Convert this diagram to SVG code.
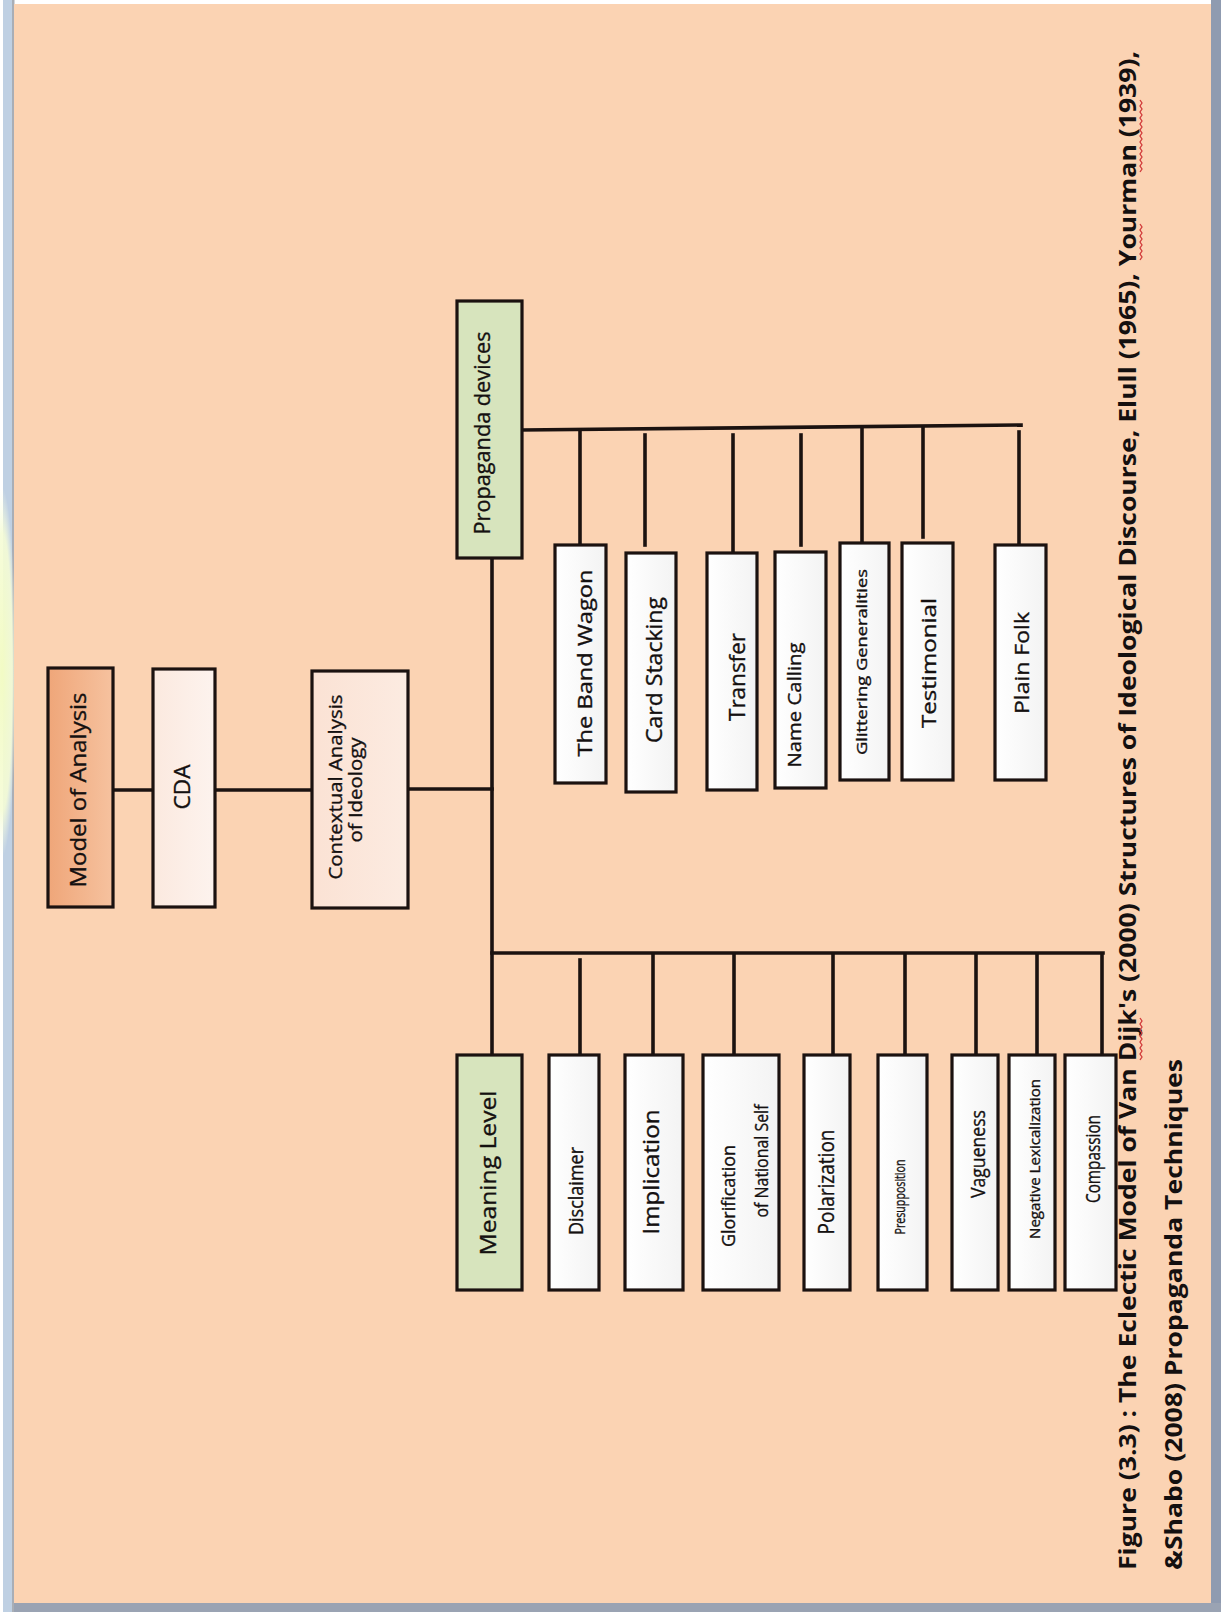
<svg xmlns="http://www.w3.org/2000/svg" width="1221" height="1612" viewBox="0 0 1221 1612">
<style>
.box{stroke:#1b1210;stroke-width:3.2}
.w{fill:url(#gw)}
.g{fill:#d7e4bd}
.lab{font-family:"Open Sans","Liberation Sans",sans-serif;fill:#141010;stroke:#141010;stroke-width:0.35;text-anchor:middle}
.cap{font-family:"Open Sans","Liberation Sans",sans-serif;fill:#141010;font-weight:bold}
#connectors line{stroke:#1b1210;stroke-width:3.6;stroke-linecap:square}
.sq{fill:none;stroke:#d23a3a;stroke-width:1.3}
</style>
<defs>
<linearGradient id="gw" x1="0" y1="0" x2="1" y2="0"><stop offset="0" stop-color="#ffffff"/><stop offset="1" stop-color="#f3f3f3"/></linearGradient>
<linearGradient id="go" x1="0" y1="0" x2="1" y2="0"><stop offset="0" stop-color="#efa679"/><stop offset="1" stop-color="#f6c29f"/></linearGradient>
<linearGradient id="gc" x1="0" y1="0" x2="1" y2="0"><stop offset="0" stop-color="#fbe9df"/><stop offset="1" stop-color="#fdf3ee"/></linearGradient>
<linearGradient id="gx" x1="0" y1="0" x2="1" y2="0"><stop offset="0" stop-color="#fbe2d4"/><stop offset="1" stop-color="#fcebe1"/></linearGradient>
<radialGradient id="gy" cx="0.5" cy="0.5" r="0.5"><stop offset="0" stop-color="#f2fbc4" stop-opacity="1"/><stop offset="0.75" stop-color="#f5fcd6" stop-opacity="0.9"/><stop offset="1" stop-color="#f8fde6" stop-opacity="0"/></radialGradient>
</defs>
<!-- page -->
<rect x="0" y="0" width="1221" height="1612" fill="#ffffff"/>
<rect x="3" y="0" width="9" height="1612" fill="#bfd0e3"/>
<rect x="12" y="0" width="2.5" height="1612" fill="#a9aeb6"/>
<ellipse cx="2" cy="672" rx="14" ry="185" fill="url(#gy)"/>
<rect x="14" y="4" width="1197" height="1600" fill="#fbd3b3"/>
<rect x="1211" y="0" width="10" height="1612" fill="#8f9bb0"/>
<rect x="14" y="1603" width="1207" height="9" fill="#9aa3b3"/>

<g id="connectors">
<line x1="113" y1="790" x2="153" y2="790"/>
<line x1="215" y1="790" x2="323" y2="790"/>
<line x1="408" y1="789" x2="492" y2="789"/>
<line x1="492" y1="558" x2="492" y2="1055"/>
<line x1="522" y1="430" x2="1021" y2="425"/>
<line x1="580" y1="430" x2="580" y2="545"/>
<line x1="645" y1="435" x2="645" y2="545"/>
<line x1="733" y1="435" x2="733" y2="553"/>
<line x1="801" y1="435" x2="801" y2="545"/>
<line x1="862" y1="428" x2="862" y2="543"/>
<line x1="923" y1="428" x2="923" y2="537"/>
<line x1="1019" y1="432" x2="1019" y2="545"/>
<line x1="492" y1="953" x2="1103" y2="953"/>
<line x1="580" y1="960" x2="580" y2="1055"/>
<line x1="653" y1="955" x2="653" y2="1055"/>
<line x1="734" y1="955" x2="734" y2="1055"/>
<line x1="833" y1="955" x2="833" y2="1055"/>
<line x1="905" y1="955" x2="905" y2="1055"/>
<line x1="976" y1="955" x2="976" y2="1055"/>
<line x1="1037" y1="955" x2="1037" y2="1055"/>
<line x1="1102" y1="955" x2="1102" y2="1055"/>
</g>

<g id="model">
<rect class="box" x="48" y="668" width="65" height="239" fill="url(#go)"/>
<text class="lab" font-size="22" transform="translate(86,790) rotate(-90)" textLength="195" lengthAdjust="spacingAndGlyphs">Model of Analysis</text>
</g>
<g id="cda">
<rect class="box" x="153" y="669" width="62" height="238" fill="url(#gc)"/>
<text class="lab" font-size="22" transform="translate(190,787) rotate(-90)" textLength="45" lengthAdjust="spacingAndGlyphs">CDA</text>
</g>
<g id="contextual">
<rect class="box" x="312" y="671" width="96" height="237" fill="url(#gx)"/>
<text class="lab" font-size="19" transform="translate(341.5,787) rotate(-90)" textLength="185" lengthAdjust="spacingAndGlyphs">Contextual Analysis</text>
<text class="lab" font-size="19" transform="translate(361.5,790) rotate(-90)" textLength="105" lengthAdjust="spacingAndGlyphs">of Ideology</text>
</g>
<g id="propaganda">
<rect class="box g" x="457" y="301" width="65" height="257"/>
<text class="lab" font-size="21" transform="translate(490,433) rotate(-90)" textLength="203" lengthAdjust="spacingAndGlyphs">Propaganda  devices</text>
</g>
<g id="meaning">
<rect class="box g" x="457" y="1055" width="65" height="235"/>
<text class="lab" font-size="22" transform="translate(495.5,1173) rotate(-90)" textLength="165" lengthAdjust="spacingAndGlyphs">Meaning Level</text>
</g>

<g id="bandwagon">
<rect class="box w" x="555" y="545" width="51" height="238"/>
<text class="lab" font-size="20" transform="translate(591.5,663) rotate(-90)" textLength="187" lengthAdjust="spacingAndGlyphs">The Band Wagon</text>
</g>
<g id="cardstacking">
<rect class="box w" x="626" y="553" width="50" height="239"/>
<text class="lab" font-size="21" transform="translate(662,670) rotate(-90)" textLength="146" lengthAdjust="spacingAndGlyphs">Card Stacking</text>
</g>
<g id="transfer">
<rect class="box w" x="707" y="553" width="50" height="237"/>
<text class="lab" font-size="21" transform="translate(745,677) rotate(-90)" textLength="88" lengthAdjust="spacingAndGlyphs">Transfer</text>
</g>
<g id="namecalling">
<rect class="box w" x="775" y="552" width="51" height="236"/>
<text class="lab" font-size="18" transform="translate(800.5,705) rotate(-90)" textLength="125" lengthAdjust="spacingAndGlyphs">Name Calling</text>
</g>
<g id="glittering">
<rect class="box w" x="840" y="543" width="49" height="237"/>
<text class="lab" font-size="15" transform="translate(867,662) rotate(-90)" textLength="186" lengthAdjust="spacingAndGlyphs">Glittering  Generalities</text>
</g>
<g id="testimonial">
<rect class="box w" x="902" y="543" width="51" height="237"/>
<text class="lab" font-size="20" transform="translate(936,663) rotate(-90)" textLength="130" lengthAdjust="spacingAndGlyphs">Testimonial</text>
</g>
<g id="plainfolk">
<rect class="box w" x="995" y="545" width="51" height="235"/>
<text class="lab" font-size="20" transform="translate(1029,663) rotate(-90)" textLength="102" lengthAdjust="spacingAndGlyphs">Plain Folk</text>
</g>

<g id="disclaimer">
<rect class="box w" x="549" y="1055" width="50" height="235"/>
<text class="lab" font-size="20" transform="translate(583,1191) rotate(-90)" textLength="88" lengthAdjust="spacingAndGlyphs">Disclaimer</text>
</g>
<g id="implication">
<rect class="box w" x="625" y="1055" width="58" height="235"/>
<text class="lab" font-size="22" transform="translate(659,1172) rotate(-90)" textLength="125" lengthAdjust="spacingAndGlyphs">Implication</text>
</g>
<g id="glorification">
<rect class="box w" x="703" y="1055" width="76" height="235"/>
<text class="lab" font-size="19" transform="translate(735,1196) rotate(-90)" textLength="102" lengthAdjust="spacingAndGlyphs">Glorification</text>
<text class="lab" font-size="19" transform="translate(768,1161) rotate(-90)" textLength="113" lengthAdjust="spacingAndGlyphs">of  National Self</text>
</g>
<g id="polarization">
<rect class="box w" x="804" y="1055" width="46" height="235"/>
<text class="lab" font-size="21" transform="translate(834,1182) rotate(-90)" textLength="105" lengthAdjust="spacingAndGlyphs">Polarization</text>
</g>
<g id="presupposition">
<rect class="box w" x="878" y="1055" width="49" height="235"/>
<text class="lab" font-size="15" transform="translate(905,1197) rotate(-90)" textLength="75" lengthAdjust="spacingAndGlyphs">Presupposition</text>
</g>
<g id="vagueness">
<rect class="box w" x="952" y="1055" width="46" height="235"/>
<text class="lab" font-size="20" transform="translate(985,1154) rotate(-90)" textLength="88" lengthAdjust="spacingAndGlyphs">Vagueness</text>
</g>
<g id="negative">
<rect class="box w" x="1009" y="1055" width="46" height="235"/>
<text class="lab" font-size="15" transform="translate(1039.5,1159) rotate(-90)" textLength="160" lengthAdjust="spacingAndGlyphs">Negative Lexicalization</text>
</g>
<g id="compassion">
<rect class="box w" x="1065" y="1055" width="51" height="235"/>
<text class="lab" font-size="20" transform="translate(1100,1159) rotate(-90)" textLength="88" lengthAdjust="spacingAndGlyphs">Compassion</text>
</g>

<g id="caption">
<text class="cap" font-size="24" transform="translate(1136,1570) rotate(-90)" textLength="1519" lengthAdjust="spacingAndGlyphs">Figure (3.3) : The Eclectic Model of Van Dijk's (2000)  Structures of  Ideological Discourse, Elull (1965), Yourman (1939),</text>
<text class="cap" font-size="24" transform="translate(1182,1570) rotate(-90)" textLength="511" lengthAdjust="spacingAndGlyphs">&amp;Shabo (2008)  Propaganda  Techniques</text>
<path class="sq" d="M1140,1060 l2,-3 l-2,-3 l2,-3 l-2,-3 l2,-3 l-2,-3 l2,-3 l-2,-3 l2,-3 l-2,-3 l2,-3 l-2,-3 l2,-3 l-2,-3"/>
<path class="sq" d="M1140,260 l2,-3 l-2,-3 l2,-3 l-2,-3 l2,-3 l-2,-3 l2,-3 l-2,-3 l2,-3 l-2,-3 l2,-3 l-2,-3"/>
<path class="sq" d="M1140,172 l2,-3 l-2,-3 l2,-3 l-2,-3 l2,-3 l-2,-3 l2,-3 l-2,-3 l2,-3 l-2,-3 l2,-3 l-2,-3 l2,-3 l-2,-3 l2,-3 l-2,-3 l2,-3 l-2,-3 l2,-3 l-2,-3 l2,-3 l-2,-3 l2,-3 l-2,-3"/>
</g>
</svg>
